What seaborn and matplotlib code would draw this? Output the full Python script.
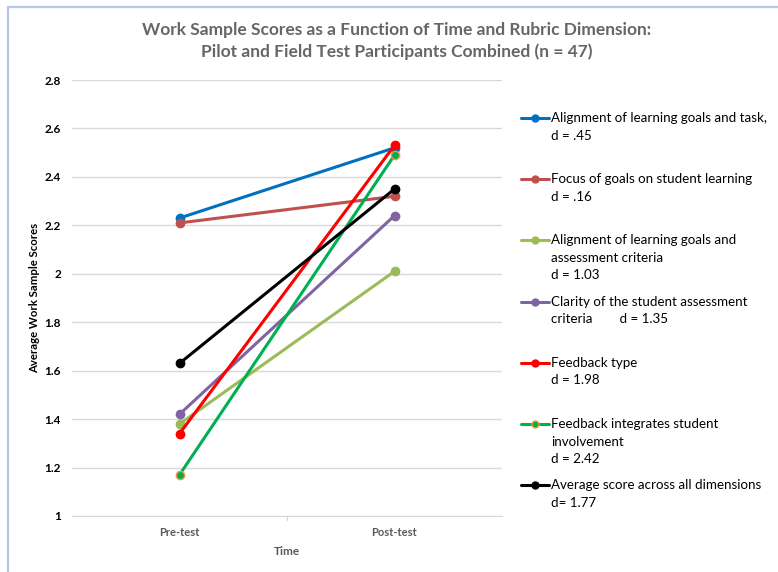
import pandas as pd
import seaborn as sns
import matplotlib.pyplot as plt
from matplotlib.patches import Rectangle

# values
times = ['Pre-test', 'Post-test']
labels = [
    'Alignment of learning goals and task,\nd = .45',
    'Focus of goals on student learning\nd = .16',
    'Alignment of learning goals and\nassessment criteria\nd = 1.03',
    'Clarity of the student assessment\ncriteria        d = 1.35',
    'Feedback type\nd = 1.98',
    'Feedback integrates student\ninvolvement\nd = 2.42',
    'Average score across all dimensions\nd= 1.77',
]
pre_scores = [2.23, 2.21, 1.38, 1.42, 1.34, 1.17, 1.63]
post_scores = [2.52, 2.32, 2.01, 2.24, 2.53, 2.49, 2.35]
colors = ['#0070C0', '#C0504D', '#9BBB59', '#8064A2', '#FF0000', '#00B050', '#000000']
edge_colors = ['#0070C0', '#C0504D', '#9BBB59', '#8064A2', '#FF0000', '#F79646', '#000000']
y_ticks = [1, 1.2, 1.4, 1.6, 1.8, 2, 2.2, 2.4, 2.6, 2.8]
y_tick_labels = ['1', '1.2', '1.4', '1.6', '1.8', '2', '2.2', '2.4', '2.6', '2.8']


def build_frame():
    rows = []
    for i, lab in enumerate(labels):
        rows.append({'series': i, 'Time': times[0], 'score': pre_scores[i]})
        rows.append({'series': i, 'Time': times[1], 'score': post_scores[i]})
    return pd.DataFrame(rows)


def main():
    df = build_frame()
    sns.set_style('white')
    plt.rcParams['font.family'] = ['Lato', 'DejaVu Sans']

    fig = plt.figure(figsize=(7.78, 5.72), dpi=100)
    fig.patches.append(Rectangle((8 / 778, -0.1), 1.2, 1 - 7 / 572 + 0.1,
                                 transform=fig.transFigure, fill=False,
                                 edgecolor='#B4C7E7', linewidth=1.6))

    ax = fig.add_axes([72 / 778, 1 - 516 / 572, 430 / 778, 436 / 572])

    for i in range(len(labels)):
        sub = df[df['series'] == i]
        sns.lineplot(data=sub, x='Time', y='score', ax=ax, color=colors[i],
                     marker='o', markersize=6, markeredgecolor=edge_colors[i],
                     markeredgewidth=1, linewidth=2.2, sort=False)

    ax.set_xlim(-0.5, 1.5)
    ax.set_ylim(1, 2.8)
    ax.set_yticks(y_ticks)
    ax.set_yticklabels(y_tick_labels, fontsize=8.5, fontweight='bold', color='black')
    ax.set_xticks([0, 1])
    ax.set_xticklabels(times, fontsize=8, fontweight='bold', color='#595959')
    ax.tick_params(axis='y', length=0, pad=8)
    ax.tick_params(axis='x', length=0, pad=8)
    ax.yaxis.grid(True, color='#D9D9D9', linewidth=1)
    ax.set_axisbelow(True)
    for s in ['top', 'right', 'left']:
        ax.spines[s].set_visible(False)
    ax.spines['bottom'].set_color('#D9D9D9')
    ax.plot([0.5, 0.5], [1, 0.985], color='#D9D9D9', lw=1, clip_on=False)

    ax.set_xlabel('Time', fontsize=8.5, fontweight='bold', color='#595959', labelpad=6)
    ax.set_ylabel('Average Work Sample Scores', fontsize=8.2, fontweight='bold',
                  color='black', labelpad=3)

    fig.text(397 / 778, 1 - 30 / 572,
             'Work Sample Scores as a Function of Time and Rubric Dimension:',
             ha='center', va='center', fontsize=12.5, fontweight='bold', color='#666666')
    fig.text(397 / 778, 1 - 52 / 572,
             'Pilot and Field Test Participants Combined (n = 47)',
             ha='center', va='center', fontsize=12.5, fontweight='bold', color='#666666')

    # legend drawn by hand so each entry sits on a fixed row
    lax = fig.add_axes([0, 0, 1, 1], facecolor='none')
    lax.set_xlim(0, 778)
    lax.set_ylim(572, 0)
    lax.axis('off')
    for i, lab in enumerate(labels):
        y = 118 + i * 61.2
        lax.plot([521, 549], [y, y], color=colors[i], lw=2.2)
        lax.plot([535], [y], marker='o', markersize=5, color=colors[i],
                 markeredgecolor=edge_colors[i], markeredgewidth=1)
        lax.text(551, y - 6, lab, fontsize=9.6, va='top', ha='left',
                 color='black', linespacing=1.55)

    fig.savefig('out.png', dpi=100)
    plt.close()


if __name__ == '__main__':
    main()
